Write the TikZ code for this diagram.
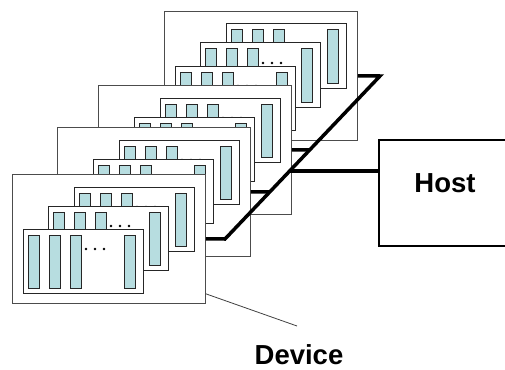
\documentclass[tikz,border=0pt]{standalone}
\usepackage{fontspec}
\setmainfont{Liberation Sans}
\usetikzlibrary{positioning}
\definecolor{barfill}{HTML}{B7DDE0}

\begin{document}
\begin{tikzpicture}[x=1pt, y=-1pt,
    every node/.style={font=\bfseries\fontsize{27.5}{30}\selectfont, inner sep=1pt},
    device/.style={draw=black!70, fill=white, line width=0.8pt, anchor=north west,
                   inner sep=0pt, minimum width=193pt, minimum height=129pt},
    card/.style={draw=black!85, fill=white, line width=1pt},
    bar/.style={draw=black!85, fill=barfill, line width=1pt},
    bus/.style={line width=3.5pt, line join=miter},
    hostbox/.style={draw, line width=1.5pt, anchor=north west, inner sep=0pt,
                    minimum width=140pt, minimum height=106pt}
]
    \useasboundingbox (0,0) rectangle (505,369);
    \clip (0,0) rectangle (505,369);

    % Four devices, back to front, three cards each
    \foreach \n/\dx/\dy in {1/164/11, 2/98/85, 3/57/127, 4/12/174} {
        \node[device] (dev\n) at (\dx,\dy) {};
        \foreach \cx/\cy in {62/13, 36/32, 11/55} {
            \draw[card] (\dx+\cx,\dy+\cy) rectangle ++(120,64);
            \foreach \bx in {5,26,47,101}
                \draw[bar] (\dx+\cx+\bx,\dy+\cy+6) rectangle ++(11,53);
            \foreach \ox in {63,72,81}
                \fill (\dx+\cx+\ox,\dy+\cy+20) circle (1.4pt);
        }
    }

    % Bus
    \coordinate (busbot) at (225,239);
    \coordinate (bustop) at (380,76);
    \path (busbot) -- (bustop) coordinate[pos=0.417] (busmid);

    \draw[bus] (dev4.east) -- (busbot) -- (bustop) -- (dev1.east);
    \draw[bus] (dev2.east) -- (intersection of busbot--bustop and dev2.east--dev2.west);
    \draw[bus] (dev3.east) -- (intersection of busbot--bustop and dev3.east--dev3.west);

    % Host
    \node[hostbox] (host) at (378,139) {};
    \node[anchor=base] (hostlabel) at (445,192) {Host};
    \draw[bus] (busmid) -- (busmid -| host.west);

    % Device label
    \coordinate (lead) at (297,326);
    \draw[black!75, line width=0.8pt] ([yshift=10pt]dev4.south east) -- (lead);
    \node[anchor=base] (devlabel) at (299,364) {Device};
\end{tikzpicture}
\end{document}
